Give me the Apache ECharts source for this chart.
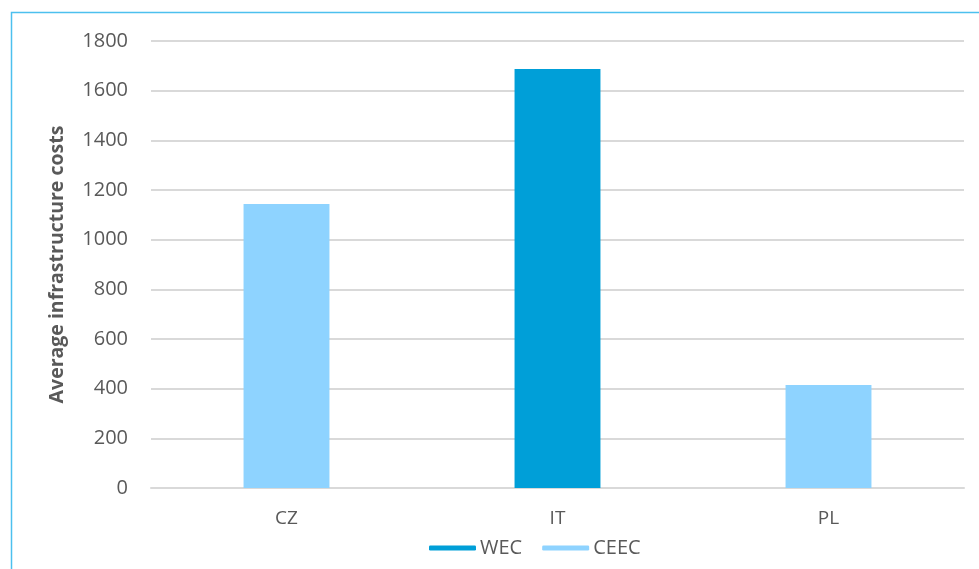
<!DOCTYPE html>
<html><head><meta charset="utf-8">
<script src="https://cdn.jsdelivr.net/npm/echarts@6/dist/echarts.min.js"></script>
<style>html,body{margin:0;padding:0;background:#fff}#c{width:979px;height:569px}</style>
</head><body><div id="c"></div>
<script>
const categories = ['CZ', 'IT', 'PL'];
const wecValues = [null, 1687, null];
const ceecValues = [1144, null, 415];
const yTicks = {min: 0, max: 1800, interval: 200};

const chart = echarts.init(document.getElementById('c'));
const font = '"Open Sans", "Liberation Sans", sans-serif';
chart.setOption({
  animation: false,
  textStyle: {fontFamily: font},
  graphic: [{type: 'rect', shape: {x: 11.5, y: 12.5, width: 1000, height: 600}, style: {fill: 'none', stroke: '#4cc0ee', lineWidth: 1.5}, z: 0, silent: true}],
  grid: {left: 151, right: 15, top: 41, bottom: 81},
  legend: {
    bottom: 6, left: 424, itemGap: 20, itemWidth: 47, itemHeight: 5, icon: 'roundRect',
    textStyle: {fontFamily: font, fontSize: 20, color: '#595959', padding: [0, 0, 0, -1]},
    data: ['WEC', 'CEEC']
  },
  xAxis: {
    type: 'category', data: categories,
    axisLine: {lineStyle: {color: '#d9d9d9', width: 2}}, axisTick: {show: false},
    axisLabel: {color: '#595959', fontSize: 19, margin: 21, fontFamily: font}
  },
  yAxis: {
    type: 'value', min: yTicks.min, max: yTicks.max, interval: yTicks.interval,
    name: 'Average infrastructure costs', nameLocation: 'middle', nameGap: 84,
    nameTextStyle: {color: '#595959', fontSize: 19.5, fontWeight: 'bold', fontFamily: font},
    axisLine: {show: false}, axisTick: {show: false},
    axisLabel: {color: '#595959', fontSize: 20, margin: 23, fontFamily: font, formatter: v => String(v)},
    splitLine: {lineStyle: {color: '#d9d9d9', width: 2}}
  },
  series: [
    {name: 'WEC', type: 'bar', stack: 's', data: wecValues, barWidth: '31.7%', itemStyle: {color: '#009fd8'}},
    {name: 'CEEC', type: 'bar', stack: 's', data: ceecValues, barWidth: '31.7%', itemStyle: {color: '#8ed3ff'}}
  ]
});
</script></body></html>
